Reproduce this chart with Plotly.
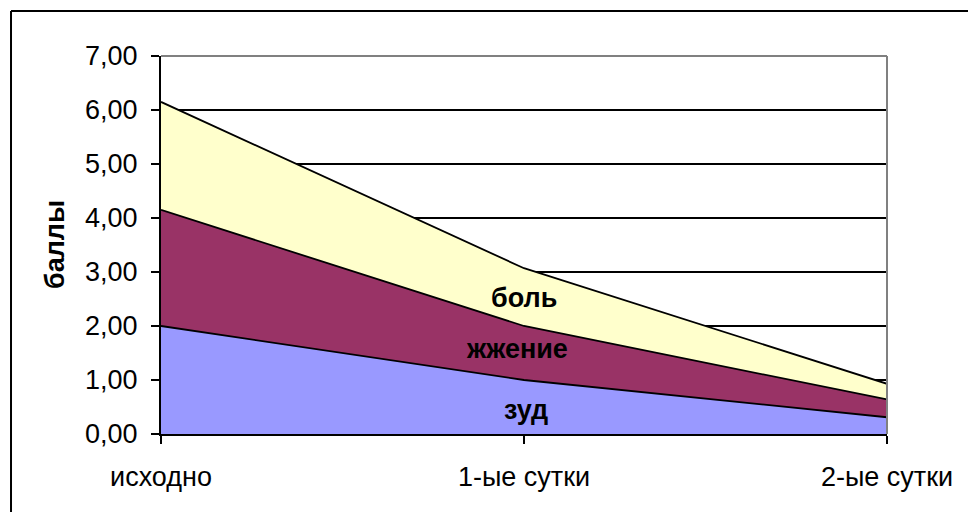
import plotly.graph_objects as go

categories = ["исходно", "1-ые сутки", "2-ые сутки"]
zud = [2.00, 1.00, 0.31]
zhzhenie = [2.15, 1.00, 0.33]
bol = [2.00, 1.07, 0.29]
series_names = ["зуд", "жжение", "боль"]
series_colors = ["#9999FF", "#993366", "#FFFFCC"]
label_x = [1.005, 0.98, 1.0]
label_y = [0.45, 1.58, 2.52]
yticks = [0, 1, 2, 3, 4, 5, 6, 7]

FONT = "Liberation Sans, Arial, sans-serif"
FS = 27
xpos = list(range(len(categories)))

fig = go.Figure()
for name, vals, col in zip(series_names, [zud, zhzhenie, bol], series_colors):
    fig.add_trace(go.Scatter(
        x=xpos, y=vals, name=name, mode="lines", stackgroup="one",
        fillcolor=col, line=dict(color="black", width=1.8), hoverinfo="skip",
    ))

for name, lx, ly in zip(series_names, label_x, label_y):
    fig.add_annotation(x=lx, y=ly, text=f"<b>{name}</b>", showarrow=False,
                       font=dict(family=FONT, size=FS, color="black"))

# y axis title
fig.add_annotation(xref="paper", yref="paper", x=-0.146, y=0.5, text="<b>баллы</b>",
                   textangle=-90, showarrow=False, xanchor="center", yanchor="middle",
                   font=dict(family=FONT, size=FS, color="black"))

# outer frame (left and top edges)
fig.add_shape(type="line", xref="paper", yref="paper", x0=-0.2066, x1=-0.2066, y0=1.119, y1=-0.3,
              line=dict(color="black", width=2))
fig.add_shape(type="line", xref="paper", yref="paper", x0=-0.2066, x1=1.2, y0=1.119, y1=1.119,
              line=dict(color="black", width=2))
# plot area top/right border in gray
fig.add_shape(type="line", xref="paper", yref="paper", x0=0, x1=1, y0=1, y1=1,
              line=dict(color="#808080", width=2), layer="above")
fig.add_shape(type="line", xref="paper", yref="paper", x0=1, x1=1, y0=0, y1=1,
              line=dict(color="#808080", width=2), layer="above")

fig.update_layout(
    width=968, height=512,
    margin=dict(l=161, r=81, t=56, b=78),
    paper_bgcolor="white", plot_bgcolor="white",
    showlegend=False, separators=", ",
    font=dict(family=FONT, size=FS, color="black"),
)
fig.update_xaxes(
    range=[0, 2], tickmode="array", tickvals=xpos, ticktext=categories,
    showgrid=False, zeroline=False, showline=True, linecolor="black", linewidth=2,
    ticks="outside", ticklen=8, tickwidth=2, tickcolor="black",
    tickfont=dict(family=FONT, size=FS, color="black"), ticklabelstandoff=10,
)
fig.update_yaxes(
    range=[0, 7], tickmode="array", tickvals=yticks, tickformat=".2f",
    showgrid=True, gridcolor="black", gridwidth=1.5, zeroline=False,
    showline=True, linecolor="black", linewidth=2,
    ticks="outside", ticklen=8, tickwidth=2, tickcolor="black",
    tickfont=dict(family=FONT, size=FS, color="black"), ticklabelstandoff=8,
)

fig.write_html("out.html")
